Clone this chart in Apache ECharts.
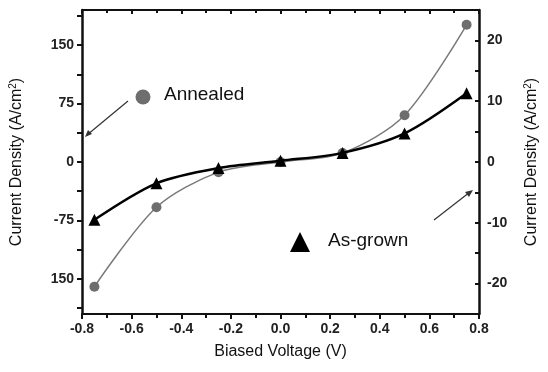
<!DOCTYPE html>
<html><head><meta charset="utf-8">
<script src="https://cdn.jsdelivr.net/npm/echarts@6/dist/echarts.min.js"></script>
<style>html,body{margin:0;padding:0;background:#fff}#c{width:548px;height:372px}</style>
</head><body><div id="c"></div>
<script>
var voltages = [-0.75, -0.5, -0.25, 0.0, 0.25, 0.5, 0.75];
var annealed = [-160, -58, -13, 0, 11.5, 60, 176];
var asGrown = [-9.5, -3.5, -1.0, 0.2, 1.5, 4.7, 11.3];
var leftLabels = [-150, -75, 0, 75, 150];
var leftTicks = [-187.5, -150, -112.5, -75, -37.5, 0, 37.5, 75, 112.5, 150, 187.5];
var rightLabels = [-20, -10, 0, 10, 20];
var rightTicks = [-25, -20, -15, -10, -5, 0, 5, 10, 15, 20, 25];

function pairs(xs, ys){ return xs.map(function(x,i){return [x, ys[i]];}); }

var font = 'Liberation Sans, Arial, sans-serif';
var chart = echarts.init(document.getElementById('c'), null, {renderer:'canvas'});
chart.setOption({
  animation:false,
  backgroundColor:'#fff',
  grid:{left:77, right:59, top:10, bottom:58},
  xAxis:[{
    type:'value', min:-0.8, max:0.8, interval:0.2, position:'bottom',
    name:'Biased Voltage (V)', nameLocation:'middle', nameGap:30,
    nameTextStyle:{fontFamily:font, fontSize:16, color:'#111'},
    axisLine:{onZero:false, lineStyle:{color:'#111', width:2}},
    axisTick:{show:true, length:5, lineStyle:{color:'#111', width:2}},
    minorTick:{show:true, splitNumber:2, length:4, lineStyle:{color:'#111', width:2}},
    axisLabel:{fontFamily:font, fontSize:14, fontWeight:'bold', color:'#222', margin:8,
      formatter:function(v){return v.toFixed(1);}},
    splitLine:{show:false}
  },{
    type:'value', min:-0.8, max:0.8, interval:0.2, position:'top',
    axisLine:{show:true, onZero:false, lineStyle:{color:'#111', width:2}},
    axisTick:{show:true, inside:true, length:4, lineStyle:{color:'#111', width:2}},
    minorTick:{show:true, splitNumber:2, length:3, lineStyle:{color:'#111', width:2}},
    axisLabel:{show:false}, splitLine:{show:false}
  }],
  yAxis:[{
    type:'value', min:-195, max:195, position:'left',
    name:'Current Density (A/cm{sup|2})', nameLocation:'middle', nameGap:56, nameRotate:90,
    nameTextStyle:{fontFamily:font, fontSize:16, color:'#111',
      rich:{sup:{fontFamily:font, fontSize:10, color:'#111', verticalAlign:'top', padding:[0,0,8,0]}}},
    axisLine:{show:true, onZero:false, lineStyle:{color:'#111', width:2.5}},
    axisTick:{show:true, length:5, customValues:leftTicks, lineStyle:{color:'#111', width:2}},
    axisLabel:{fontFamily:font, fontSize:14, fontWeight:'bold', color:'#222', margin:8,
      customValues:leftLabels,
      formatter:function(v){return v===-150?'150':String(v);}},
    splitLine:{show:false}
  },{
    type:'value', min:-25, max:25, position:'right',
    name:'Current Density (A/cm{sup|2})', nameLocation:'middle', nameGap:44, nameRotate:90,
    nameTextStyle:{fontFamily:font, fontSize:16, color:'#111',
      rich:{sup:{fontFamily:font, fontSize:10, color:'#111', verticalAlign:'top', padding:[0,0,8,0]}}},
    axisLine:{show:true, onZero:false, lineStyle:{color:'#111', width:2.5}},
    axisTick:{show:true, inside:true, length:4, customValues:rightTicks, lineStyle:{color:'#111', width:2}},
    axisLabel:{fontFamily:font, fontSize:14, fontWeight:'bold', color:'#222', margin:8,
      customValues:rightLabels},
    splitLine:{show:false}
  }],
  series:[{
    name:'Annealed', type:'line', xAxisIndex:0, yAxisIndex:0,
    data:pairs(voltages, annealed), smooth:0.3,
    symbol:'circle', symbolSize:10,
    lineStyle:{color:'#7a7a7a', width:1.5},
    itemStyle:{color:'#6e6e6e'}, z:2
  },{
    name:'As-grown', type:'line', xAxisIndex:0, yAxisIndex:1,
    data:pairs(voltages, asGrown), smooth:0.3,
    symbol:'triangle', symbolSize:12,
    lineStyle:{color:'#000', width:2.5},
    itemStyle:{color:'#000'}, z:3
  }],
  graphic:[
    {type:'circle', shape:{cx:143, cy:97, r:7.5}, style:{fill:'#6e6e6e'}},
    {type:'text', left:164, top:85, style:{text:'Annealed', font:'19px '+font, fill:'#111'}},
    {type:'line', shape:{x1:128, y1:101, x2:87, y2:135}, style:{stroke:'#333', lineWidth:1.2}},
    {type:'polygon', shape:{points:[[85,137],[88,130],[92,134]]}, style:{fill:'#333'}},
    {type:'polygon', shape:{points:[[300,232],[290,252],[310,252]]}, style:{fill:'#000'}},
    {type:'text', left:328, top:231, style:{text:'As-grown', font:'19px '+font, fill:'#111'}},
    {type:'line', shape:{x1:434, y1:220, x2:470, y2:192}, style:{stroke:'#333', lineWidth:1.2}},
    {type:'polygon', shape:{points:[[473,190],[465,192],[469,197]]}, style:{fill:'#333'}}
  ]
});
</script></body></html>
